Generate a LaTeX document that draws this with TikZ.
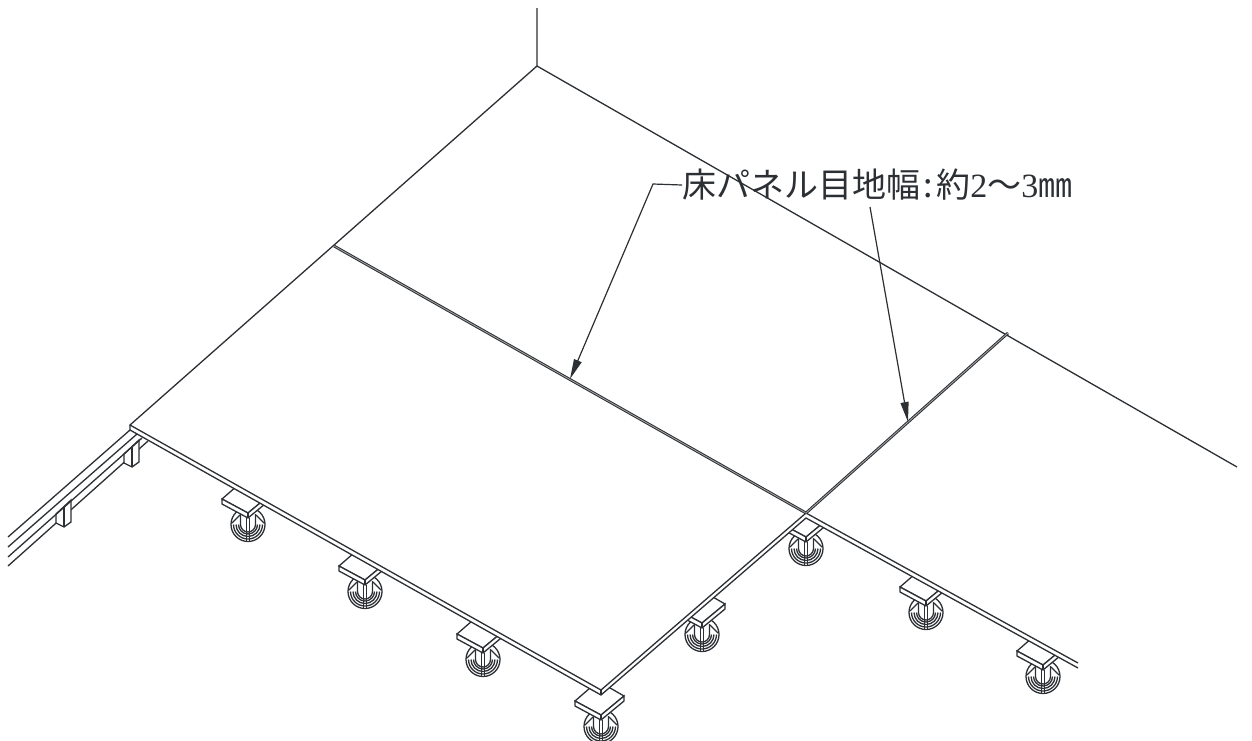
\documentclass[tikz,border=0pt]{standalone}
\usepackage{fontspec}
\usepackage{tikz}
\usepackage{xcolor}
\usetikzlibrary{arrows.meta}
\setmainfont{Liberation Serif}
\newfontfamily\cjk{Noto Sans CJK JP}
\definecolor{ink}{HTML}{2C3034}
\tikzset{
    thin-edge/.style = {draw=ink, line width=0.65pt},
    joint-line/.style = {draw=ink, line width=0.5pt, double=gray!70, double distance=0.4pt},
    leader/.style = {draw=ink, line width=0.6pt, -{Triangle[length=10pt,width=4pt]}},
    plain-label/.style = {text=ink, font=\fontsize{17pt}{17pt}\selectfont, inner sep=0pt, anchor=west},
    pedestal/.pic = {
        \draw[thin-edge, fill=white] (0,11.5) circle (17);
        \draw[thin-edge] (14.5,11.5) arc (0:180:14.5);
        \draw[thin-edge] (12,11.5) arc (0:180:12);
        \draw[thin-edge] (9.5,11.5) arc (0:180:9.5);
        \draw[thin-edge] (7.5,1) -- (7.5,11.5) arc (0:180:7.5) -- (-7.5,1);
        \draw[thin-edge] (-16,10) -- (-8,2) (16,10) -- (8,2);
        \draw[thin-edge] (-1.2,5) -- (-1.2,28) (1.5,5) -- (1.5,28);
        \draw[thin-edge, fill=white] (0,0) -- (-26,-14) -- (-3,-34) -- (23,-19) -- cycle;
        \draw[thin-edge, fill=white] (-26,-14) -- (-26,-9) -- (0,5) -- (23,-14) -- (23,-19) -- (0,0) -- cycle;
        \draw[thin-edge] (0,0) -- (0,5);
    },
    rail-post/.pic = {
        \draw[thin-edge, fill=white] (-8,7) -- (7,-7) -- (7,15) -- (0,20) -- (-8,16) -- cycle;
        \draw[thin-edge] (0,0) -- (0,20);
    },
}
\begin{document}
\begin{tikzpicture}[x=0.5pt, y=-0.5pt]
\useasboundingbox (0,0) rectangle (1252,740);
\fill[white] (0,0) rectangle (1252,740);

\coordinate (wall-top) at (537,8);
\coordinate (far-corner) at (537,66);
\coordinate (far-end) at (1237,467);
\coordinate (near-left) at (130,425);
\coordinate (near-left-low) at (130,430);
\coordinate (near-corner) at (601,690);
\coordinate (near-corner-low) at (601,695);
\coordinate (cross) at (806,513);
\coordinate (cross-low) at (806,518);
\coordinate (near-right) at (1078,663);
\coordinate (near-right-low) at (1078,668);
\coordinate (joint-a) at (334,246);
\coordinate (joint-b) at (1008,333);
\coordinate (bend) at (653,184);
\coordinate (tip-a) at (570,379);
\coordinate (start-b) at (870,207);
\coordinate (tip-b) at (908,422);

\draw[thin-edge] (148,441) -- (8,566);
\foreach \x/\y in {132/447, 64/507}
    \pic at (\x,\y) {rail-post};
\draw[thin-edge] (near-left-low) -- (8,537);
\draw[thin-edge] (137,434) -- (8,547);
\draw[thin-edge] (142,438) -- (8,557);

\foreach \x/\y in {248/513, 365/580, 483/648, 601/715, 806/537, 702/623, 926/601, 1043/665}
    \pic at (\x,\y) {pedestal};

\fill[white] (far-corner) -- (near-left) -- (near-left-low) -- (near-corner-low) -- (cross-low)
    -- (near-right-low) -- (near-right) -- (far-end) -- cycle;

\draw[thin-edge] (wall-top) -- (far-corner) -- (far-end);
\draw[thin-edge] (far-corner) -- (near-left) -- (near-corner) -- (cross) -- (near-right);
\draw[thin-edge] (near-left) -- (near-left-low) -- (near-corner-low) -- (cross-low) -- (near-right-low);
\draw[thin-edge] (near-corner) -- (near-corner-low);
\draw[joint-line] (joint-a) -- (cross);
\draw[joint-line] (joint-b) -- (cross);

\node[plain-label] (label) at (682,185) {\cjk 床パネル目地幅\makebox[.47em]{:}約{\rmfamily 2}〜{\rmfamily 3}㎜};
\draw[leader] (label.west) -- (bend) -- (tip-a);
\draw[leader] (start-b) -- (tip-b);
\end{tikzpicture}
\end{document}
